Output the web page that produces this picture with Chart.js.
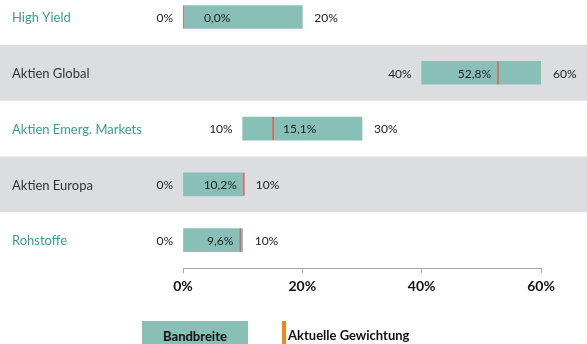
<!DOCTYPE html>
<html>
<head>
<meta charset="utf-8">
<title>Bandbreiten</title>
<script src="https://cdn.jsdelivr.net/npm/chart.js"></script>
<style>
  body { margin: 0; background: #fff; font-family: Lato, sans-serif; }
  #wrap { position: relative; width: 587px; height: 344px; overflow: hidden; }
  #chart { position: absolute; left: 0; top: 0; }
  .leg-box { position: absolute; left: 142px; top: 321px; width: 106px; height: 30px; background: #88bfb7;
             font-weight: bold; font-size: 13px; color: #111; text-align: center; line-height: 31px; }
  .leg-line { position: absolute; left: 282px; top: 321px; width: 4px; height: 30px; background: #f5841f; }
  .leg-text { position: absolute; left: 288px; top: 327px; font-weight: bold; font-size: 13px; color: #111; }
</style>
</head>
<body>
<div id="wrap">
  <canvas id="chart" width="587" height="344"></canvas>
  <div class="leg-box">Bandbreite</div>
  <div class="leg-line"></div>
  <div class="leg-text">Aktuelle Gewichtung</div>
</div>
<script>
// Anlageklassen mit Bandbreite (min/max) und aktueller Gewichtung in %
const klassen  = ['High Yield', 'Aktien Global', 'Aktien Emerg. Markets', 'Aktien Europa', 'Rohstoffe'];
const minimum  = [0, 40, 10, 0, 0];
const maximum  = [20, 60, 30, 10, 10];
const aktuell  = [0.0, 52.8, 15.1, 10.2, 9.6];
const xTicks   = [0, 20, 40, 60];

const TEAL = '#88bfb7';
const TEAL_TEXT = '#3f9b8b';
const GRAU = '#dcdde0';
const ROT = '#e85a50';

const fmt = v => v.toFixed(1).replace('.', ',') + '%';

// graue Zeilenbänder hinter jeder zweiten Zeile + Kategorienamen links
const zeilen = {
  id: 'zeilen',
  beforeDatasetsDraw(chart) {
    const { ctx, scales: { y } } = chart;
    ctx.save();
    klassen.forEach((k, i) => {
      if (i % 2 === 1) {
        const top = y.getPixelForValue(i - 0.5);
        const bot = y.getPixelForValue(i + 0.5);
        ctx.fillStyle = GRAU;
        ctx.fillRect(0, top, chart.width, bot - top);
      }
    });
    ctx.font = '13px Lato';
    ctx.textBaseline = 'middle';
    ctx.textAlign = 'left';
    klassen.forEach((k, i) => {
      ctx.fillStyle = i % 2 === 0 ? TEAL_TEXT : '#333';
      ctx.fillText(k, 12, y.getPixelForValue(i) + 1);
    });
    ctx.restore();
  },
  afterDatasetsDraw(chart) {
    const { ctx, scales: { x, y } } = chart;
    ctx.save();
    ctx.font = '12px Lato';
    ctx.fillStyle = '#222';
    ctx.textBaseline = 'middle';
    klassen.forEach((k, i) => {
      const py = y.getPixelForValue(i) + 1;
      const x0 = x.getPixelForValue(minimum[i]);
      const x1 = x.getPixelForValue(maximum[i]);
      const xc = x.getPixelForValue(aktuell[i]);
      // min links, max rechts
      ctx.textAlign = 'right';
      ctx.fillText(minimum[i] + '%', x0 - 10, py);
      ctx.textAlign = 'left';
      ctx.fillText(maximum[i] + '%', Math.max(x1, xc) + 12, py);
      // aktueller Wert: links vom Strich wenn Platz, sonst rechts davon
      const txt = fmt(aktuell[i]);
      const w = ctx.measureText(txt).width;
      if (xc - x0 > w + 12) {
        ctx.textAlign = 'right';
        ctx.fillText(txt, xc - 7, py);
      } else {
        ctx.textAlign = 'left';
        ctx.fillText(txt, xc + (xc - x0 < 2 ? 21 : 10), py);
      }
    });
    ctx.restore();
  }
};

new Chart(document.getElementById('chart'), {
  type: 'bar',
  data: {
    datasets: [
      {
        type: 'scatter',
        data: aktuell.map((v, i) => ({ x: v, y: i })),
        pointStyle: 'line',
        rotation: 90,
        radius: 11.5,
        borderColor: ROT,
        borderWidth: 1.5,
        showLine: false,
        order: 0
      },
      {
        type: 'bar',
        data: klassen.map((k, i) => ({ x: [minimum[i], maximum[i]], y: i })),
        backgroundColor: TEAL,
        borderWidth: 0,
        barThickness: 23,
        order: 1
      }
    ]
  },
  options: {
    indexAxis: 'y',
    responsive: false,
    animation: false,
    devicePixelRatio: 1,
    layout: { autoPadding: false, padding: { left: 183, right: 46, top: 0, bottom: 0 } },
    plugins: { legend: { display: false }, tooltip: { enabled: false } },
    scales: {
      y: {
        type: 'linear', reverse: true, min: -0.305, max: 4.5,
        offset: false, display: false, grid: { offset: false }
      },
      x: {
        type: 'linear',
        min: 0, max: 60,
        offset: false,
        afterFit(scale) { scale.height = 76; },
        afterBuildTicks(scale) { scale.ticks = xTicks.map(v => ({ value: v })); },
        border: { display: true, color: '#a6a6a6', width: 1 },
        grid: { offset: false, drawOnChartArea: false, drawTicks: true, tickLength: 5, color: '#a6a6a6' },
        ticks: {
          padding: 5,
          color: '#111',
          font: { family: 'Lato', size: 14, weight: 'bold' },
          callback: v => v + '%'
        }
      }
    }
  },
  plugins: [zeilen]
});
</script>
</body>
</html>
